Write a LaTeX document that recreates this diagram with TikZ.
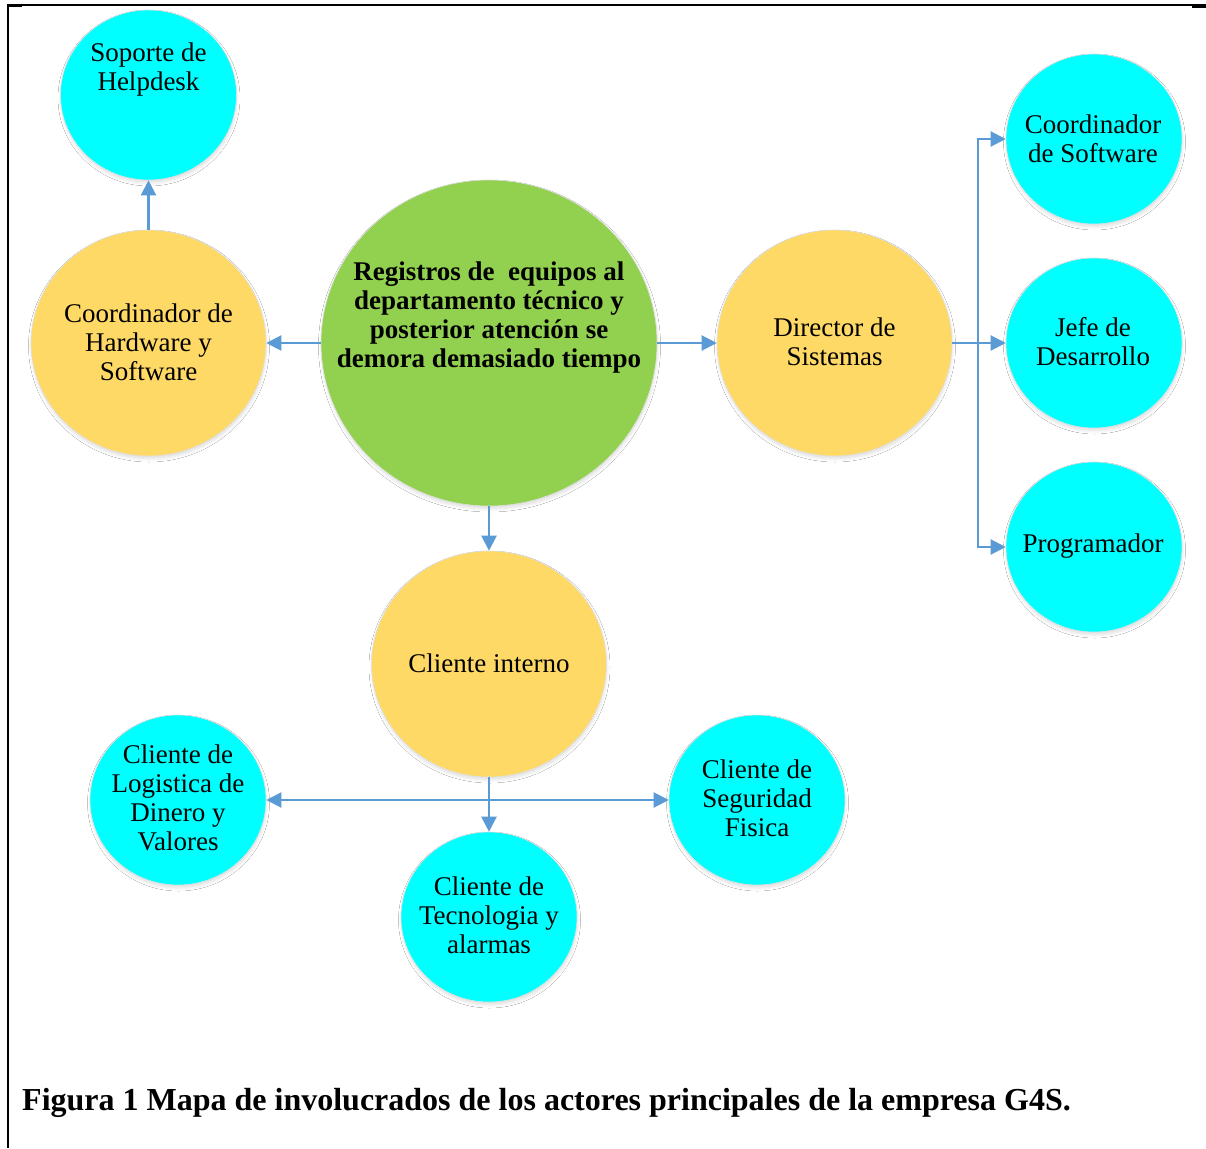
\documentclass[tikz,border=0pt]{standalone}
\usepackage{fontspec}
\setmainfont{Liberation Serif}
\usetikzlibrary{shapes.geometric,arrows.meta,shadows.blur}
\definecolor{ballcyan}{HTML}{00FFFF}
\definecolor{ballgold}{HTML}{FFD966}
\definecolor{ballgreen}{HTML}{92D050}
\definecolor{linkblue}{HTML}{5B9BD5}
\begin{document}
\begin{tikzpicture}[x=1pt,y=-1pt,
  ball/.style={ellipse,inner sep=0pt,draw=gray!25,line width=0.6pt,
    blur shadow={shadow xshift=0.5pt,shadow yshift=-3pt,shadow blur radius=3pt,shadow opacity=12}},
  smallball/.style={ball,fill=ballcyan,minimum width=176pt,minimum height=170pt},
  midball/.style={ball,fill=ballgold,minimum width=235pt,minimum height=226pt},
  bigball/.style={ball,fill=ballgreen,minimum width=336pt,minimum height=326pt},
  txt/.style={align=center,inner sep=0pt,font=\fontsize{27}{29}\selectfont},
  boldtxt/.style={align=center,inner sep=0pt,font=\fontsize{27}{29}\selectfont\bfseries},
  wire/.style={draw=linkblue,line width=2.2pt},
  link/.style={wire,-{Triangle[length=15pt,width=15pt]}},
]
\useasboundingbox (0,0) rectangle (1206,1148);
\fill[white] (0,0) rectangle (1206,1148);

% frame
\draw[line width=1.6pt] (7,5) -- (1206,5);
\draw[line width=2pt] (8,4.2) -- (8,1148);
\draw[line width=3pt] (7,5.7) -- (22,5.7);
\draw[line width=3pt] (1192,6.2) -- (1206,6.2);

% circles
\node[bigball] (core) at (489,343) {};
\node[midball] (hw) at (148.5,343) {};
\node[midball] (dir) at (834.5,343) {};
\node[midball] (ci) at (489,664) {};
\node[smallball] (help) at (148.5,95) {};
\node[smallball] (csw) at (1094,139) {};
\node[smallball] (jefe) at (1094,343) {};
\node[smallball] (prog) at (1094,547) {};
\node[smallball] (log) at (178,800) {};
\node[smallball] (seg) at (757,800) {};
\node[smallball] (tec) at (489,917) {};

% texts
\node[boldtxt] (tcore) at (489,318) {Registros de \ equipos al\\departamento técnico y\\posterior atención se\\demora demasiado tiempo};
\node[txt] (thw) at (148.5,342) {Coordinador de\\Hardware y\\Software};
\node[txt] (tdir) at (834.5,342) {Director de\\Sistemas};
\node[txt] (tci) at (489,663) {Cliente interno};
\node[txt] (thelp) at (148.5,70) {Soporte de\\Helpdesk};
\node[txt] (tcsw) at (1093,139) {Coordinador\\de Software};
\node[txt] (tjefe) at (1093,342) {Jefe de\\Desarrollo};
\node[txt] (tprog) at (1093,546) {Programador};
\node[txt] (tlog) at (178,798) {Cliente de\\Logistica de\\Dinero y\\Valores};
\node[txt] (tseg) at (757,798) {Cliente de\\Seguridad\\Fisica};
\node[txt] (ttec) at (489,915) {Cliente de\\Tecnologia y\\alarmas};

% connectors
\draw[link] (core.west) -- (hw.east);
\draw[link] (core.east) -- (dir.west);
\draw[link] (core.south) -- (ci.north);
\draw[link] (hw.north) -- (help.south);

\coordinate (fork) at (978,343);
\draw[wire] (dir.east) -- (fork);
\draw[link] (fork) |- (csw.west);
\draw[link] (fork) -- (jefe.west);
\draw[link] (fork) |- (prog.west);

\coordinate (hub) at (489,800);
\draw[wire] (ci.south) -- (hub);
\draw[link] (hub) -- (tec.north);
\draw[link] (hub) -- (log.east);
\draw[link] (hub) -- (seg.west);

% caption
\node[anchor=base west,inner sep=0pt,font=\fontsize{32}{36}\selectfont\bfseries] (caption) at (22,1110)
  {Figura 1 Mapa de involucrados de los actores principales de la empresa G4S.};
\end{tikzpicture}
\end{document}
